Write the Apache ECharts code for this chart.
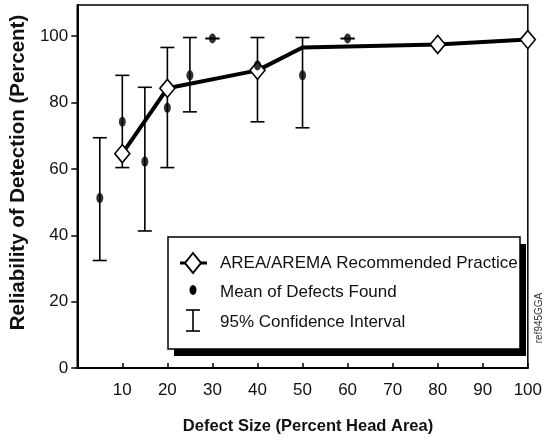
<!DOCTYPE html>
<html>
<head>
<meta charset="utf-8">
<script src="https://cdn.jsdelivr.net/npm/echarts@6/dist/echarts.min.js"></script>
<style>html,body{margin:0;padding:0;background:#fff}#chart{width:545px;height:440px}</style>
</head>
<body>
<div id="chart"></div>
<script>
// ---- data ----
const xTickLabels = [10, 20, 30, 40, 50, 60, 70, 80, 90, 100];
const yTickLabels = [0, 20, 40, 60, 80, 100];
const meanX    = [5, 10, 15, 20, 25, 30, 40, 50, 60];
const meanY    = [51.2, 74.2, 62.2, 78.4, 88.2, 99.3, 91.2, 88.2, 99.3];
const ciLow    = [32.4, 60.4, 41.3, 60.4, 77.2, 99.3, 74.2, 72.4, 99.3];
const ciHigh   = [69.4, 88.2, 84.6, 96.6, 99.6, 99.3, 99.6, 99.6, 99.3];
const practiceX = [10, 20, 40, 50, 80, 100];
const practiceY = [64.6, 84.3, 89.7, 96.6, 97.5, 99.0];
const practiceMarked = [true, true, true, false, true, true];
const seriesNames = ['AREA/AREMA Recommended Practice', 'Mean of Defects Found', '95% Confidence Interval'];

const ARIAL = "'Liberation Sans', Arial, sans-serif";

const chart = echarts.init(document.getElementById('chart'), null, {renderer: 'canvas'});

const ciData = meanX.map((x, i) => [x, ciLow[i], ciHigh[i]]);
const meanData = meanX.map((x, i) => [x, meanY[i]]);
const practiceData = practiceX.map((x, i) => practiceMarked[i]
  ? {value: [x, practiceY[i]]}
  : {value: [x, practiceY[i]], symbol: 'none'});

const option = {
  animation: false,
  backgroundColor: '#fff',
  grid: {left: 74, right: 13, top: 5, bottom: 68.5, show: true, borderColor: '#000', borderWidth: 1.5, backgroundColor: 'transparent'},
  xAxis: {
    type: 'value', min: 0, max: 100, interval: 10,
    name: 'Defect Size (Percent Head Area)', nameLocation: 'middle', nameGap: 50,
    nameTextStyle: {fontFamily: ARIAL, fontWeight: 'bold', fontSize: 16.5, color: '#111', padding: [0, 0, 0, 11]},
    axisLine: {show: true, onZero: false, lineStyle: {color: '#000', width: 2}},
    axisTick: {show: true, inside: true, length: 5, lineStyle: {color: '#000', width: 1.5}, customValues: xTickLabels},
    axisLabel: {show: true, margin: 14, fontFamily: ARIAL, fontSize: 17, color: '#111', customValues: xTickLabels},
    splitLine: {show: false}
  },
  yAxis: {
    type: 'value', min: 0, max: 109.4, interval: 20,
    name: 'Reliability of Detection (Percent)', nameLocation: 'middle', nameGap: 44, nameRotate: 90,
    nameTextStyle: {fontFamily: ARIAL, fontWeight: 'bold', fontSize: 20.5, color: '#111', padding: [0, 0, 0, 28]},
    axisLine: {show: true, onZero: false, lineStyle: {color: '#000', width: 2}},
    axisTick: {show: true, inside: false, length: 6, lineStyle: {color: '#000', width: 1.5}, customValues: yTickLabels},
    axisLabel: {show: true, margin: 9, fontFamily: ARIAL, fontSize: 17, color: '#111', customValues: yTickLabels},
    splitLine: {show: false}
  },
  series: [
    {
      name: seriesNames[2], type: 'custom', z: 2,
      data: ciData,
      renderItem: function (params, api) {
        const x = api.value(0);
        const lo = api.coord([x, api.value(1)]);
        const hi = api.coord([x, api.value(2)]);
        const hw = 7;
        const st = {stroke: '#000', lineWidth: 1.6, fill: null};
        return {type: 'group', children: [
          {type: 'line', shape: {x1: lo[0], y1: lo[1], x2: hi[0], y2: hi[1]}, style: st},
          {type: 'line', shape: {x1: lo[0] - hw, y1: lo[1], x2: lo[0] + hw, y2: lo[1]}, style: st},
          {type: 'line', shape: {x1: hi[0] - hw, y1: hi[1], x2: hi[0] + hw, y2: hi[1]}, style: st}
        ]};
      }
    },
    {
      name: seriesNames[0], type: 'line', z: 3,
      data: practiceData,
      symbol: 'diamond', symbolSize: [15, 18],
      lineStyle: {color: '#000', width: 4},
      itemStyle: {color: '#fff', borderColor: '#000', borderWidth: 1.6}
    },
    {
      name: seriesNames[1], type: 'scatter', z: 4,
      data: meanData,
      symbol: 'circle', symbolSize: [7, 10],
      itemStyle: {color: '#000'}
    }
  ],
  graphic: [
    {
      type: 'group', z: 100,
      children: [
        {type: 'rect', shape: {x: 174, y: 244, width: 352, height: 112}, style: {fill: '#000'}},
        {type: 'rect', shape: {x: 168, y: 237, width: 352, height: 112}, style: {fill: '#fff', stroke: '#000', lineWidth: 1.5}},
        {type: 'line', shape: {x1: 180, y1: 263, x2: 207, y2: 263}, style: {stroke: '#000', lineWidth: 3}},
        {type: 'polygon', shape: {points: [[193, 253], [201, 263], [193, 273], [185, 263]]}, style: {fill: '#fff', stroke: '#000', lineWidth: 2}},
        {type: 'text', x: 220, y: 263, style: {text: seriesNames[0], fontFamily: ARIAL, fontSize: 17, fill: '#111', verticalAlign: 'middle'}},
        {type: 'ellipse', shape: {cx: 193, cy: 290, rx: 3.5, ry: 5}, style: {fill: '#000'}},
        {type: 'text', x: 220, y: 292, style: {text: seriesNames[1], fontFamily: ARIAL, fontSize: 17, fill: '#111', verticalAlign: 'middle'}},
        {type: 'line', shape: {x1: 193, y1: 310, x2: 193, y2: 331}, style: {stroke: '#000', lineWidth: 1.6}},
        {type: 'line', shape: {x1: 186, y1: 310, x2: 200, y2: 310}, style: {stroke: '#000', lineWidth: 1.6}},
        {type: 'line', shape: {x1: 186, y1: 331, x2: 200, y2: 331}, style: {stroke: '#000', lineWidth: 1.6}},
        {type: 'text', x: 220, y: 322, style: {text: seriesNames[2], fontFamily: ARIAL, fontSize: 17, fill: '#111', verticalAlign: 'middle'}}
      ]
    },
    {
      type: 'text', x: 539, y: 318, rotation: Math.PI / 2, z: 100,
      style: {text: 'ref945GGA', fontFamily: ARIAL, fontSize: 10, fill: '#333', align: 'center', verticalAlign: 'middle'}
    }
  ]
};
chart.setOption(option);
</script>
</body>
</html>
